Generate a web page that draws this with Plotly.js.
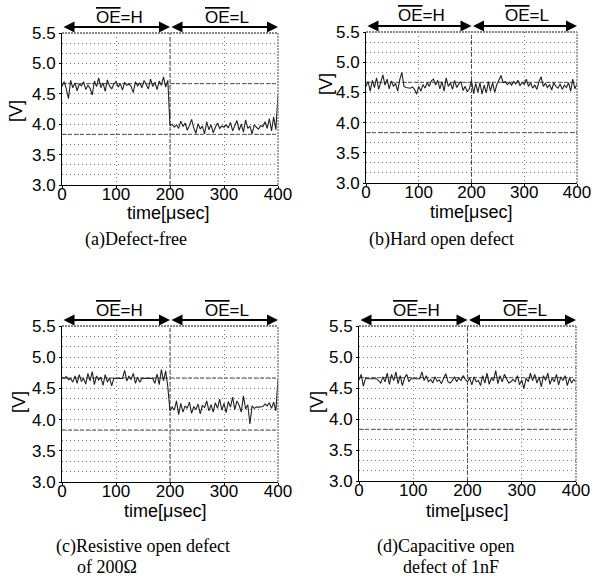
<!DOCTYPE html>
<html>
<head>
<meta charset="utf-8">
<script src="https://cdn.plot.ly/plotly-3.0.1.min.js"></script>
<style>html,body{margin:0;padding:0;background:#fff;}#chart{width:595px;height:578px;}</style>
</head>
<body>
<div id="chart"></div>
<script>
// ---- data ----
const timeUs = [0,4,8,12,16,20,24,28,32,36,40,44,48,52,56,60,64,68,72,76,80,84,88,92,96,100,104,108,112,116,120,124,128,132,136,140,144,148,152,156,160,164,168,172,176,180,184,188,192,196,200,204,208,212,216,220,224,228,232,236,240,244,248,252,256,260,264,268,272,276,280,284,288,292,296,300,304,308,312,316,320,324,328,332,336,340,344,348,352,356,360,364,368,372,376,380,384,388,392,396,400];

const voltsA = [4.62,4.70,4.58,4.42,4.72,4.60,4.68,4.55,4.66,4.63,
4.70,4.57,4.64,4.59,4.48,4.71,4.62,4.76,4.60,4.68,
4.54,4.73,4.63,4.58,4.66,4.70,4.61,4.67,4.56,4.69,
4.64,4.66,4.62,4.52,4.70,4.63,4.68,4.60,4.72,4.65,
4.58,4.74,4.62,4.69,4.57,4.71,4.64,4.78,4.61,4.72,
3.97,4.00,3.95,3.99,3.93,4.05,3.96,4.02,3.90,3.98,
4.08,3.94,3.85,4.01,3.92,3.97,3.84,4.04,3.91,3.99,
3.86,3.95,4.02,3.93,3.97,3.95,3.99,3.94,4.03,3.89,
3.98,4.06,3.90,4.00,3.87,4.07,3.93,3.97,3.84,3.99,
3.95,3.92,3.98,3.96,4.04,3.93,4.09,3.89,4.12,3.91,
4.48];

const voltsB = [4.60,4.68,4.52,4.70,4.58,4.74,4.55,4.66,4.79,4.62,
4.72,4.56,4.69,4.60,4.65,4.52,4.71,4.83,4.60,4.58,
4.58,4.57,4.59,4.55,4.47,4.60,4.52,4.63,4.57,4.66,
4.60,4.69,4.72,4.62,4.70,4.56,4.68,4.52,4.74,4.60,
4.66,4.55,4.70,4.58,4.64,4.68,4.53,4.60,4.51,4.56,
4.70,4.48,4.65,4.50,4.66,4.47,4.62,4.49,4.68,4.52,
4.66,4.50,4.63,4.72,4.78,4.66,4.68,4.63,4.67,4.62,
4.68,4.64,4.70,4.61,4.67,4.63,4.72,4.60,4.66,4.57,
4.62,4.55,4.68,4.76,4.60,4.65,4.58,4.63,4.54,4.66,
4.60,4.57,4.64,4.55,4.62,4.58,4.66,4.52,4.72,4.56,
4.64];

const voltsC = [4.68,4.66,4.69,4.64,4.66,4.60,4.70,4.58,4.72,4.61,
4.66,4.57,4.74,4.62,4.77,4.56,4.70,4.63,4.68,4.55,
4.72,4.60,4.67,4.54,4.66,4.66,4.66,4.67,4.66,4.79,
4.62,4.70,4.64,4.74,4.58,4.68,4.60,4.66,4.66,4.66,
4.67,4.66,4.66,4.58,4.73,4.56,4.80,4.62,4.78,4.52,
4.14,4.20,4.15,4.30,4.08,4.26,4.12,4.22,4.18,4.28,
4.10,4.21,4.16,4.25,4.09,4.23,4.19,4.30,4.14,4.24,
4.12,4.27,4.18,4.33,4.15,4.26,4.11,4.29,4.20,4.36,
4.16,4.30,4.23,4.12,4.38,4.17,4.24,3.93,4.22,4.18,
4.20,4.20,4.20,4.21,4.25,4.22,4.27,4.18,4.28,4.14,
4.65];

const voltsD = [4.63,4.72,4.53,4.66,4.65,4.65,4.64,4.65,4.65,4.62,
4.58,4.68,4.60,4.74,4.56,4.72,4.62,4.76,4.57,4.70,
4.54,4.66,4.72,4.60,4.65,4.65,4.65,4.66,4.65,4.76,
4.62,4.70,4.60,4.64,4.58,4.68,4.61,4.63,4.57,4.66,
4.73,4.60,4.58,4.62,4.68,4.60,4.66,4.62,4.70,4.64,
4.60,4.66,4.55,4.68,4.60,4.62,4.54,4.70,4.58,4.74,
4.56,4.66,4.62,4.78,4.57,4.70,4.60,4.72,4.64,4.58,
4.60,4.64,4.60,4.70,4.55,4.63,4.49,4.66,4.60,4.74,
4.62,4.72,4.58,4.68,4.52,4.70,4.62,4.74,4.56,4.66,
4.60,4.72,4.55,4.68,4.62,4.70,4.54,4.66,4.58,4.64,
4.60];

const xTickVals = [0,100,200,300,400];
const yTickVals = [3.0,3.5,4.0,4.5,5.0,5.5];
const refLevels = [23/6, 28/6];   // dashed reference lines
const splitTime = 200;
const phaseLabels = ['<span style="text-decoration:overline">OE</span>=H','<span style="text-decoration:overline">OE</span>=L'];
const xTitle = 'time[μsec]';
const yTitle = '[V]';
const captions = [
  ['(a)Defect-free'],
  ['(b)Hard open defect'],
  ['(c)Resistive open defect','of 200Ω'],
  ['(d)Capacitive open','defect of 1nF']
];

// ---- layout helpers ----
const W = 595, H = 578;
const px = p => p / W;
const py = p => 1 - p / H;
// plot boxes in pixels [left, right, top, bottom]
const boxes = [[62,278,33,185],[366,577,32,183],[62,278,326,482],[359,576,326,481]];
const yTitlePos = [[16,111],[326,84],[19,402],[317,402]];
const xTitlePos = [[168,213],[471,212],[165,511],[467,511]];
const capPos = [[[136,240]],[[441,240]],[[143,546],[107,567]],[[445,546],[451,567]]];
const series = [voltsA, voltsB, voltsC, voltsD];

const SANS = 'Liberation Sans, Arial, sans-serif';
const SERIF = 'Liberation Serif, Times New Roman, serif';
const GRID = '#777';
const DOTS = '1px,3px';

const data = [];
const layout = {
  width: W, height: H,
  margin: {l:0, r:0, t:0, b:0},
  paper_bgcolor: '#fff', plot_bgcolor: '#fff',
  showlegend: false,
  shapes: [], annotations: []
};

series.forEach((vals, i) => {
  const n = i === 0 ? '' : String(i + 1);
  const xa = 'x' + n, ya = 'y' + n;
  const [l, r, t, b] = boxes[i];
  data.push({x: timeUs, y: vals, xaxis: xa, yaxis: ya, type: 'scatter', mode: 'lines',
    line: {color: '#222', width: 1.1}, hoverinfo: 'skip'});
  layout['xaxis' + n] = {
    domain: [px(l), px(r)], anchor: ya, range: [0, 400],
    tickvals: xTickVals, ticks: 'outside', ticklen: 2, tickcolor: '#000',
    ticklabelstandoff: -8,
    showline: true, linecolor: '#000', linewidth: 1, zeroline: false,
    showgrid: true, gridcolor: GRID, griddash: DOTS, gridwidth: 1,
    tickfont: {family: SANS, size: 17, color: '#000'}, fixedrange: true
  };
  layout['yaxis' + n] = {
    domain: [py(b), py(t)], anchor: xa, range: [3, 5.5],
    tickvals: yTickVals, tickformat: '.1f', ticks: 'outside', ticklen: 2, tickcolor: '#000',
    showline: true, linecolor: '#000', linewidth: 1, zeroline: false,
    showgrid: true, gridcolor: GRID, griddash: DOTS, gridwidth: 1,
    minor: {tick0: 3, dtick: 1/6, showgrid: true, gridcolor: GRID, griddash: DOTS, gridwidth: 1, ticks: ''},
    tickfont: {family: SANS, size: 17, color: '#000'}, fixedrange: true
  };
  refLevels.forEach(v => layout.shapes.push({type: 'line', layer: 'below',
    xref: xa + ' domain', x0: 0, x1: 1, yref: ya, y0: v, y1: v,
    line: {color: '#444', width: 1, dash: '4px,2px'}}));
  layout.shapes.push({type: 'line', layer: 'below', xref: xa, x0: splitTime, x1: splitTime,
    yref: ya + ' domain', y0: 0, y1: 1, line: {color: '#444', width: 1, dash: '4px,2px'}});
  // top and right frame
  layout.shapes.push({type: 'line', xref: xa + ' domain', x0: 0, x1: 1, yref: ya + ' domain', y0: 1, y1: 1,
    line: {color: '#888', width: 2, dash: '2px,1px'}});
  layout.shapes.push({type: 'line', xref: xa + ' domain', x0: 1, x1: 1, yref: ya + ' domain', y0: 0, y1: 1,
    line: {color: '#888', width: 1.5, dash: '2px,1px'}});
  // phase arrows
  const hgt = b - t;
  [[0, splitTime], [splitTime, 400]].forEach((seg, k) => {
    layout.annotations.push({xref: xa, x: seg[1], axref: xa, ax: seg[0],
      yref: ya + ' domain', y: 1 + 6 / hgt, ayref: 'pixel', ay: 0,
      text: '', showarrow: true, arrowside: 'end+start',
      arrowhead: 2, startarrowhead: 2, arrowsize: 1.1, startarrowsize: 1.1,
      arrowwidth: 2, arrowcolor: '#000', standoff: 0, startstandoff: 0});
    layout.annotations.push({xref: xa, x: (seg[0] + seg[1]) / 2 + 6,
      yref: ya + ' domain', y: 1 + 16 / hgt, yanchor: 'middle', xanchor: 'center',
      text: phaseLabels[k], showarrow: false,
      font: {family: SANS, size: 17, color: '#000'}});
  });
  layout.annotations.push({xref: 'paper', yref: 'paper', x: px(yTitlePos[i][0]), y: py(yTitlePos[i][1]),
    text: yTitle, textangle: -90, showarrow: false, xanchor: 'center', yanchor: 'middle',
    font: {family: SANS, size: 18, color: '#000'}});
  layout.annotations.push({xref: 'paper', yref: 'paper', x: px(xTitlePos[i][0]), y: py(xTitlePos[i][1]),
    text: xTitle, showarrow: false, xanchor: 'center', yanchor: 'middle',
    font: {family: SANS, size: 18, color: '#000'}});
  captions[i].forEach((c, j) => layout.annotations.push({xref: 'paper', yref: 'paper',
    x: px(capPos[i][j][0]), y: py(capPos[i][j][1]), text: c, showarrow: false,
    xanchor: 'center', yanchor: 'middle', font: {family: SERIF, size: 18, color: '#000'}}));
});

Plotly.newPlot('chart', data, layout, {staticPlot: true, displayModeBar: false});
</script>
</body>
</html>
